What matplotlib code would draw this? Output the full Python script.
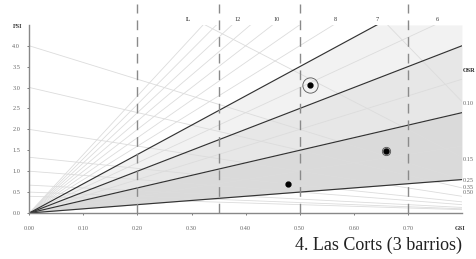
import matplotlib.pyplot as plt
import numpy as np

# layer lines (FSI = L * GSI)
dark_L = [1, 3, 5, 7]
light_L = [2, 4, 6, 8, 9, 10, 11, 12, 13, 14]
# open space ratio lines (FSI = (1 - GSI) / OSR)
osr_lines = [0.075, 0.15, 0.25, 0.333, 0.5, 0.75, 1.0, 1.5, 2.0, 2.5]
# bands between dark layer lines
band_L = [(1, 3), (3, 5), (5, 7)]
band_colors = ['#dadada', '#e7e7e7', '#f2f2f2']
# vertical reference lines
gsi_marks = [0.20, 0.35, 0.50, 0.70]

# top labels for L lines
top_labels = ['L', '12', '10', '8', '7', '6']
top_label_gsi = [0.293, 0.386, 0.458, 0.565, 0.643, 0.755]
# right labels for OSR lines
osr_labels = ['OSR', '0.10', '0.15', '0.25', '0.35', '0.50']
osr_label_fsi = [3.40, 2.62, 1.28, 0.77, 0.62, 0.50]

# barrios
pt_gsi = [0.519, 0.659, 0.479]
pt_fsi = [3.06, 1.48, 0.69]
ring_size = [11, 6, 0]

title = '4. Las Corts (3 barrios)'

fmax = 4.5
gmax = 0.8

plt.rcParams['font.family'] = ['Liberation Serif', 'DejaVu Serif']

fig = plt.figure(figsize=(4.77, 2.59), dpi=100)
ax = fig.add_axes([0.0614, 0.1776, 0.907, 0.807])

g = np.linspace(0, gmax, 400)
for (lo, hi), c in zip(band_L, band_colors):
    ax.fill_between(g, np.minimum(lo * g, fmax), np.minimum(hi * g, fmax),
                    color=c, lw=0, zorder=0)

for L in light_L:
    ax.plot(g, L * g, color='#dcdcdc', lw=0.6, zorder=1)
for o in osr_lines:
    ax.plot(g, (1 - g) / o, color='#dcdcdc', lw=0.6, zorder=1)
for L in dark_L:
    ax.plot(g, L * g, color='#333333', lw=0.85, zorder=2)

# clip lines to the FSI range
for ln in ax.lines:
    ln.set_clip_path(plt.Rectangle((0, 0), gmax, fmax, transform=ax.transData))

for x in gsi_marks:
    ax.plot([x, x], [0, 5.0], color='#8a8a8a', lw=1.0,
            dashes=(7, 5), zorder=3, clip_on=False)

for s, x in zip(top_labels, top_label_gsi):
    ax.text(x, 4.64, s, fontsize=4.5, ha='center', va='center',
            fontweight='bold' if s == 'L' else 'normal', color='#333333')
for s, y in zip(osr_labels, osr_label_fsi):
    ax.text(0.802, y, s, fontsize=4.5, ha='left', va='center',
            fontweight='bold' if s == 'OSR' else 'normal',
            color='#222222' if s == 'OSR' else '#666666', clip_on=False)

ax.text(-0.021, 4.47, 'FSI', fontsize=4.5, fontweight='bold',
        ha='center', va='center', color='#333333')
ax.text(0.797, -0.38, 'GSI', fontsize=4.5, fontweight='bold',
        ha='center', va='center', color='#333333')

for x, y, r in zip(pt_gsi, pt_fsi, ring_size):
    if r:
        ax.plot(x, y, 'o', ms=r, mfc='none' if r > 8 else '#bdbdbd',
                mec='#555555', mew=0.6, zorder=4)
    ax.plot(x, y, 'o', ms=3.5, color='black', zorder=5)

ax.set_xlim(0, gmax)
ax.set_ylim(0, 5.0)
ax.set_xticks(np.arange(0, 0.71, 0.1))
ax.set_xticklabels([f'{v:.2f}' for v in np.arange(0, 0.71, 0.1)])
ax.set_yticks(np.arange(0, 4.01, 0.5))
ax.set_yticklabels([f'{v:.1f}' for v in np.arange(0, 4.01, 0.5)])
ax.tick_params(labelsize=4.5, colors='#666666', length=1.5, width=0.6)
ax.tick_params(axis='x', pad=8)
ax.tick_params(axis='y', pad=5)
for s in ['top', 'right']:
    ax.spines[s].set_visible(False)
ax.spines['left'].set_bounds(0, fmax)
ax.spines['left'].set_color('#888888')
ax.spines['bottom'].set_color('#888888')
ax.spines['left'].set_linewidth(1.0)
ax.spines['bottom'].set_linewidth(1.0)
ax.patch.set_alpha(0)

fig.text(462 / 477, 1 - 245 / 259, title, fontsize=13, ha='right', va='center',
         color='#222222')

fig.savefig('out.png', dpi=100)
